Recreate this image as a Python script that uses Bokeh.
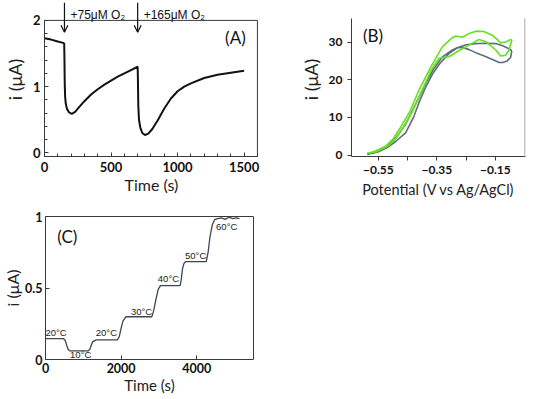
from bokeh.plotting import figure
from bokeh.layouts import column, row
from bokeh.models import (FixedTicker, Label, Arrow, OpenHead, Range1d, LinearAxis,
                          BoxAnnotation)
from bokeh.embed import file_html
from bokeh.resources import INLINE

# ---------------- Panel A data ----------------
a_time = [0, 50, 100, 140, 148, 150, 152, 155, 160, 170, 185, 205, 230, 260, 300, 350, 400,
          450, 500, 550, 600, 650, 700, 702, 705, 710, 720, 735, 755, 780, 810, 850, 900,
          950, 1000, 1050, 1100, 1200, 1300, 1400, 1500]
a_current = [1.73, 1.71, 1.68, 1.66, 1.65, 1.40, 1.05, 0.85, 0.74, 0.66, 0.61, 0.59, 0.62, 0.69,
             0.78, 0.88, 0.96, 1.03, 1.09, 1.15, 1.20, 1.25, 1.30, 1.10, 0.70, 0.50, 0.38, 0.30,
             0.27, 0.29, 0.36, 0.49, 0.67, 0.82, 0.93, 1.00, 1.05, 1.13, 1.18, 1.21, 1.24]
a_arrow_times = [150, 700]
a_arrow_texts = ["+75μM O₂", "+165μM O₂"]
a_xticks = [0, 500, 1000, 1500]
a_yticks = [0, 1, 2]

# ---------------- Panel B data ----------------
b_gray1_v = [-0.588, -0.55, -0.52, -0.49, -0.457, -0.43, -0.411, -0.39, -0.365, -0.34, -0.308,
             -0.28, -0.25, -0.217, -0.18, -0.149, -0.125, -0.105, -0.094]
b_gray1_i = [0.2, 0.9, 2.0, 3.7, 5.9, 10.0, 14.0, 17.8, 21.5, 24.3, 27.0, 28.5, 29.3, 29.6,
             29.7, 29.6, 29.0, 28.3, 27.7]
b_gray2_v = [-0.094, -0.098, -0.11, -0.125, -0.137, -0.16, -0.19, -0.217, -0.24, -0.263, -0.28,
             -0.297, -0.331, -0.36, -0.388, -0.42, -0.457, -0.49, -0.525, -0.56, -0.588]
b_gray2_i = [27.7, 25.9, 25.0, 24.6, 24.6, 25.4, 26.4, 27.2, 28.0, 28.6, 28.5, 27.9, 26.1, 23.0,
             19.1, 14.0, 8.2, 4.6, 2.0, 0.8, 0.4]
b_green1_v = [-0.588, -0.56, -0.525, -0.5, -0.479, -0.445, -0.411, -0.37, -0.331, -0.30, -0.286,
              -0.263, -0.24, -0.217, -0.19, -0.16, -0.145, -0.132, -0.115, -0.098]
b_green1_i = [0.45, 1.1, 2.4, 4.3, 6.8, 11.2, 17.3, 23.5, 28.8, 31.0, 31.6, 31.3, 32.3, 32.9,
              32.8, 31.8, 30.8, 29.8, 30.0, 30.7]
b_green2_v = [-0.588, -0.555, -0.518, -0.49, -0.47, -0.436, -0.40, -0.37, -0.343, -0.325, -0.308,
              -0.28, -0.24, -0.206, -0.18, -0.149, -0.132, -0.115, -0.103, -0.094, -0.098]
b_green2_i = [0.45, 1.0, 2.4, 4.5, 6.8, 11.2, 17.3, 22.5, 25.7, 26.0, 26.1, 27.5, 29.2, 30.7,
              30.0, 27.9, 26.3, 26.5, 27.9, 30.5, 30.7]
b_xticks = [-0.55, -0.35, -0.15]
b_xminor = [-0.45, -0.25]
b_yticks = [0, 10, 20, 30]

# ---------------- Panel C data ----------------
c_time = [0, 470, 520, 560, 600, 650, 1120, 1170, 1210, 1250, 1340, 1900, 1950, 2000, 2050,
          2130, 2810, 2860, 2920, 2980, 3040, 3560, 3590, 3620, 3660, 3700, 4250, 4300, 4350,
          4410, 4470, 4550, 4650, 4750, 4850, 4950, 5050, 5130]
c_current = [0.146, 0.146, 0.135, 0.10, 0.07, 0.06, 0.06, 0.07, 0.10, 0.125, 0.137, 0.137, 0.16,
             0.22, 0.27, 0.299, 0.299, 0.34, 0.42, 0.49, 0.516, 0.516, 0.56, 0.63, 0.67, 0.685,
             0.685, 0.75, 0.86, 0.94, 0.978, 0.985, 0.99, 0.98, 0.995, 0.985, 0.99, 0.985]
c_temp_labels = ["20°C", "10°C", "20°C", "30°C", "40°C", "50°C", "60°C"]
c_label_t = [0, 650, 1330, 2260, 2970, 3690, 4510]
c_label_i = [0.15, 0.0, 0.15, 0.30, 0.53, 0.688, 0.89]
c_xticks = [0, 2000, 4000]
c_yticks = [0, 0.5, 1]

AXIS_COLOR = "#3a3a3a"
A_W, B_W, C_W = 282, 244, 263


def style_axes(p, tick_in, tick_out, tick_size):
    for ax in (p.xaxis[0], p.yaxis[0]):
        ax.axis_line_color = AXIS_COLOR
        ax.major_tick_line_color = AXIS_COLOR
        ax.minor_tick_line_color = AXIS_COLOR
        ax.major_tick_in = tick_in
        ax.major_tick_out = tick_out
        ax.minor_tick_in = tick_in
        ax.minor_tick_out = tick_out
        ax.major_label_text_font = "Lato"
        ax.major_label_text_font_style = "bold"
        ax.major_label_text_font_size = tick_size
        ax.major_label_text_color = "#111111"
        ax.axis_label_text_font = "Lato"
        ax.axis_label_text_font_style = "normal"
        ax.axis_label_text_color = "#222222"
    p.xgrid.visible = False
    p.ygrid.visible = False


def add_box(p):
    for side in ("above", "right"):
        ax = LinearAxis(ticker=FixedTicker(ticks=[]), axis_line_color=AXIS_COLOR,
                        major_tick_line_color=None, minor_tick_line_color=None,
                        major_label_text_font_size="0px")
        p.add_layout(ax, side)


def fixed(w):
    return {"min-width": f"{w}px", "flex-shrink": "0", "flex-grow": "0"}


# ---------------- Panel A ----------------
A_TOP = 2.0
pA = figure(width=A_W, height=198, output_backend="svg", toolbar_location=None, title=None,
            x_range=Range1d(0, 1608), y_range=Range1d(-0.055, 2.27),
            min_border_left=41, min_border_right=24, min_border_top=0, min_border_bottom=43,
            styles=fixed(A_W))
pA.line(a_time, a_current, line_color="#111111", line_width=2)
style_axes(pA, 4, 0, "13px")
pA.xaxis[0].ticker = FixedTicker(ticks=a_xticks, minor_ticks=list(range(0, 1601, 100)))
pA.yaxis[0].ticker = FixedTicker(ticks=a_yticks, minor_ticks=[k / 5 for k in range(0, 11)])
pA.yaxis[0].bounds = (-0.055, A_TOP)
pA.xaxis[0].bounds = (0, 1600)
pA.xaxis[0].minor_tick_in = 3
pA.yaxis[0].minor_tick_in = 3
pA.xaxis[0].axis_label = "Time (s)"
pA.yaxis[0].axis_label = "i (μA)"
pA.xaxis[0].axis_label_text_font_size = "16px"
pA.yaxis[0].axis_label_text_font_size = "18px"
pA.xaxis[0].major_label_standoff = 5
pA.yaxis[0].major_label_standoff = 4
pA.xaxis[0].axis_label_standoff = 0
pA.yaxis[0].axis_label_standoff = 4
pA.outline_line_color = None
pA.add_layout(BoxAnnotation(left=0, right=1600, bottom=-0.055, top=A_TOP, fill_alpha=0,
                            line_color=AXIS_COLOR, line_width=1, line_alpha=1))
for t, txt in zip(a_arrow_times, a_arrow_texts):
    pA.add_layout(Arrow(end=OpenHead(size=7, line_width=1.2, line_color="#111111"),
                        x_start=t, y_start=2.27, x_end=t, y_end=1.82,
                        line_color="#111111", line_width=1.2))
    pA.add_layout(Label(x=t + 45, y=2.085, text=txt, text_font="Liberation Sans",
                        text_font_size="12px", text_color="#111111",
                        text_baseline="alphabetic"))
pA.add_layout(Label(x=1357, y=1.59, text="(A)", text_font="Lato", text_font_size="17px",
                    text_color="#111111"))

# ---------------- Panel B ----------------
B_TOP = 36.3
pB = figure(width=B_W, height=198, output_backend="svg", toolbar_location=None, title=None,
            x_range=Range1d(-0.642, -0.047), y_range=Range1d(-0.35, 40.5),
            min_border_left=69, min_border_right=1, min_border_top=0, min_border_bottom=43,
            styles=fixed(B_W))
gray = "#5d6d79"
green = "#66e01e"
pB.line(b_gray1_v, b_gray1_i, line_color=gray, line_width=1.6)
pB.line(b_gray2_v, b_gray2_i, line_color=gray, line_width=1.6)
pB.line(b_green1_v, b_green1_i, line_color=green, line_width=1.6)
pB.line(b_green2_v, b_green2_i, line_color=green, line_width=1.6)
style_axes(pB, 0, 4, "12px")
pB.xaxis[0].ticker = FixedTicker(ticks=b_xticks, minor_ticks=b_xminor)
pB.yaxis[0].ticker = FixedTicker(ticks=b_yticks)
pB.yaxis[0].bounds = (-0.35, B_TOP)
pB.xaxis[0].minor_tick_out = 4
pB.yaxis[0].minor_tick_out = 0
pB.xaxis[0].axis_label = "Potential (V vs Ag/AgCl)"
pB.yaxis[0].axis_label = "i (μA)"
pB.xaxis[0].axis_label_text_font_size = "14.5px"
pB.yaxis[0].axis_label_text_font_size = "18px"
pB.xaxis[0].major_label_standoff = 5
pB.yaxis[0].major_label_standoff = 5
pB.xaxis[0].axis_label_standoff = 4
pB.yaxis[0].axis_label_standoff = 4
pB.outline_line_color = None
pB.add_layout(BoxAnnotation(left=-0.049, right=-0.049, bottom=-0.35, top=B_TOP, fill_alpha=0,
                            line_color="#b8b8b8", line_width=1, line_alpha=1))
pB.add_layout(Label(x=-0.603, y=29.0, text="(B)", text_font="Lato", text_font_size="17px",
                    text_color="#111111"))

# ---------------- Panel C ----------------
pC = figure(width=C_W, height=198, output_backend="svg", toolbar_location=None, title=None,
            x_range=Range1d(0, 5500), y_range=Range1d(0, 1.0),
            min_border_left=41, min_border_right=10, min_border_top=16, min_border_bottom=39,
            styles=fixed(C_W))
pC.line(c_time, c_current, line_color="#3d4750", line_width=1.3)
style_axes(pC, 4, 0, "12.5px")
pC.xaxis[0].ticker = FixedTicker(ticks=c_xticks)
pC.yaxis[0].ticker = FixedTicker(ticks=c_yticks)
pC.xaxis[0].axis_label = "Time (s)"
pC.yaxis[0].axis_label = "i (μA)"
pC.xaxis[0].axis_label_text_font_size = "15px"
pC.yaxis[0].axis_label_text_font_size = "16px"
pC.xaxis[0].major_label_standoff = 3
pC.yaxis[0].major_label_standoff = 3
pC.xaxis[0].axis_label_standoff = 0
pC.yaxis[0].axis_label_standoff = 0
pC.outline_line_color = None
add_box(pC)
for txt, t, i in zip(c_temp_labels, c_label_t, c_label_i):
    pC.add_layout(Label(x=t, y=i, text=txt, text_font="Liberation Sans", text_font_size="9.5px",
                        text_color="#222222"))
pC.add_layout(Label(x=310, y=0.79, text="(C)", text_font="Lato", text_font_size="17px",
                    text_color="#111111"))

total_w = f"{A_W + B_W}px"
top_row = row(pA, pB, spacing=0, styles={"min-width": total_w, "flex-shrink": "0"})
layout = column(top_row, pC, spacing=0,
                styles={"margin-top": "2px", "margin-bottom": "-16px", "min-width": total_w})

open("out.html", "w").write(file_html(layout, INLINE))
